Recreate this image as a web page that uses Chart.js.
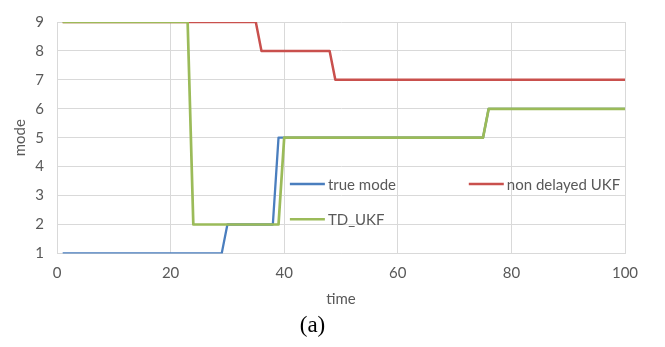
<!DOCTYPE html>
<html>
<head>
<meta charset="utf-8">
<script src="https://cdn.jsdelivr.net/npm/chart.js@4"></script>
<style>
  html, body { margin: 0; padding: 0; background: #fff; }
  #wrap { width: 665px; height: 347px; }
</style>
</head>
<body>
<div id="wrap"><canvas id="mode-chart" width="665" height="347"></canvas></div>
<script>
// ---------- DATA ----------
// step points (time, mode)
var trueTime = [1, 29, 30, 38, 39, 75, 76, 100];
var trueMode = [1, 1, 2, 2, 5, 5, 6, 6];

var ukfTime = [1, 35, 36, 48, 49, 100];
var ukfMode = [9, 9, 8, 8, 7, 7];

var tdTime = [1, 23, 24, 39, 40, 75, 76, 100];
var tdMode = [9, 9, 2, 2, 5, 5, 6, 6];

var xTicks = [0, 20, 40, 60, 80, 100];
var yTicks = [1, 2, 3, 4, 5, 6, 7, 8, 9];

var seriesNames = ["true mode", "non delayed UKF", "TD_UKF"];
var seriesColors = ["#4A7EBE", "#C9504D", "#9BBB59"];

function toPoints(xs, ys) {
  return xs.map(function(x, i) { return { x: x, y: ys[i] }; });
}

var textGrey = "#595959";
var gridGrey = "#D9D9D9";

// legend drawn inside the plot, two columns like the excel one
var insideLegend = {
  id: "insideLegend",
  afterDatasetsDraw: function(chart) {
    var ctx = chart.ctx;
    var a = chart.chartArea;
    var w = a.right - a.left, h = a.bottom - a.top;
    // [column x fraction, row y fraction]
    var spots = [[0.41, 0.70], [0.725, 0.70], [0.41, 0.852]];
    ctx.save();
    ctx.font = "15px Lato";
    ctx.fillStyle = textGrey;
    ctx.textBaseline = "middle";
    ctx.lineWidth = 2.5;
    for (var i = 0; i < seriesNames.length; i++) {
      var x = a.left + spots[i][0] * w;
      var y = a.top + spots[i][1] * h;
      ctx.strokeStyle = seriesColors[i];
      ctx.beginPath();
      ctx.moveTo(x, y);
      ctx.lineTo(x + 35, y);
      ctx.stroke();
      ctx.fillText(seriesNames[i], x + 38, y + 1);
    }
    ctx.restore();
  }
};

new Chart("mode-chart", {
  type: "line",
  data: {
    datasets: [{
      label: seriesNames[0],
      data: toPoints(trueTime, trueMode),
      borderColor: seriesColors[0],
      borderWidth: 2.3,
      order: 2
    }, {
      label: seriesNames[1],
      data: toPoints(ukfTime, ukfMode),
      borderColor: seriesColors[1],
      order: 1
    }, {
      label: seriesNames[2],
      data: toPoints(tdTime, tdMode),
      borderColor: seriesColors[2],
      borderWidth: 2.7,
      order: 0
    }]
  },
  plugins: [insideLegend],
  options: {
    responsive: false,
    animation: false,
    elements: {
      line: { borderWidth: 2.5, tension: 0, fill: false, borderJoinStyle: "round" },
      point: { radius: 0 }
    },
    layout: { padding: { left: 0, right: 40, top: 16, bottom: 0 } },
    plugins: {
      legend: { display: false },
      tooltip: { enabled: false },
      title: {
        display: true,
        position: "bottom",
        text: "(a)",
        color: "#000",
        font: { family: "Liberation Serif", size: 23, weight: "normal" },
        padding: { top: 0, bottom: 7 }
      }
    },
    scales: {
      x: {
        type: "linear",
        min: 0,
        max: 100,
        afterBuildTicks: function(scale) {
          scale.ticks = xTicks.map(function(v) { return { value: v }; });
        },
        afterFit: function(scale) { scale.height = 59; },
        grid: { color: gridGrey, drawTicks: false },
        border: { color: gridGrey },
        ticks: { color: textGrey, font: { family: "Lato", size: 15 }, padding: 11, maxRotation: 0 },
        title: {
          display: true,
          text: "time",
          color: textGrey,
          font: { family: "Lato", size: 15 },
          padding: { top: 0, bottom: 4 }
        }
      },
      y: {
        min: 1,
        max: 9,
        afterBuildTicks: function(scale) {
          scale.ticks = yTicks.map(function(v) { return { value: v }; });
        },
        afterFit: function(scale) { scale.width = 57; },
        grid: { color: gridGrey, drawTicks: false },
        border: { color: gridGrey },
        ticks: { color: textGrey, font: { family: "Lato", size: 15 }, padding: 13 },
        title: {
          display: true,
          text: "mode",
          color: textGrey,
          font: { family: "Lato", size: 15 },
          padding: { top: 11, bottom: 0 }
        }
      }
    }
  }
});
</script>
</body>
</html>
